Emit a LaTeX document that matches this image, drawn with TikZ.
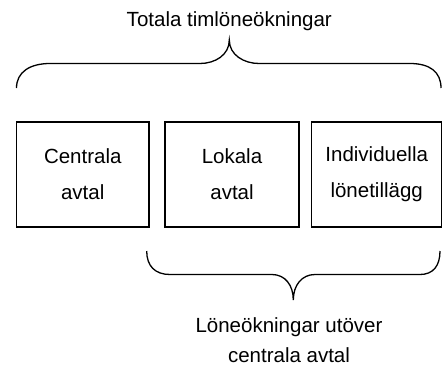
\documentclass[tikz,border=0pt]{standalone}
\usepackage{fontspec}
\setmainfont{Liberation Sans}
\begin{document}
\begin{tikzpicture}[x=1pt,y=-1pt,
  boxnode/.style={draw,line width=1.3pt,minimum height=105pt,align=center,inner sep=0pt,
    font=\fontsize{20.5}{36}\selectfont},
  labelnode/.style={align=center,inner sep=0pt,font=\fontsize{20.5}{30}\selectfont},
  bracepath/.style={line width=1.3pt}]
\useasboundingbox (0,0) rectangle (446,367);
\node[labelnode] (top) at (229.3,21) {Totala timlöneökningar};
\node[boxnode,minimum width=132.5pt] (central) at (82.75,174.6) {Centrala\\avtal};
\node[boxnode,minimum width=134pt] (local) at (232,174.6) {Lokala\\avtal};
\node[boxnode,minimum width=130pt] (indiv) at (376.7,174.6) {Individuella\\lönetillägg};
\node[labelnode] (bottom) at (289,340) {Löneökningar utöver\\centrala avtal};
\draw[bracepath] (16.5,88) .. controls (16.5,72) and (30,63.5) .. (50,63.5) -- (200,63.5)
  .. controls (215,63.5) and (229.3,55) .. (229.3,40)
  .. controls (229.3,55) and (244,63.5) .. (259,63.5) -- (410,63.5)
  .. controls (430,63.5) and (441,72) .. (441,88);
\draw[bracepath] (146.7,251) .. controls (146.7,266) and (155,274.5) .. (170,274.5) -- (272,274.5)
  .. controls (285,274.5) and (293.3,285) .. (293.3,300)
  .. controls (293.3,285) and (302,274.5) .. (315,274.5) -- (420,274.5)
  .. controls (433,274.5) and (440,266) .. (440,251);
\end{tikzpicture}
\end{document}
